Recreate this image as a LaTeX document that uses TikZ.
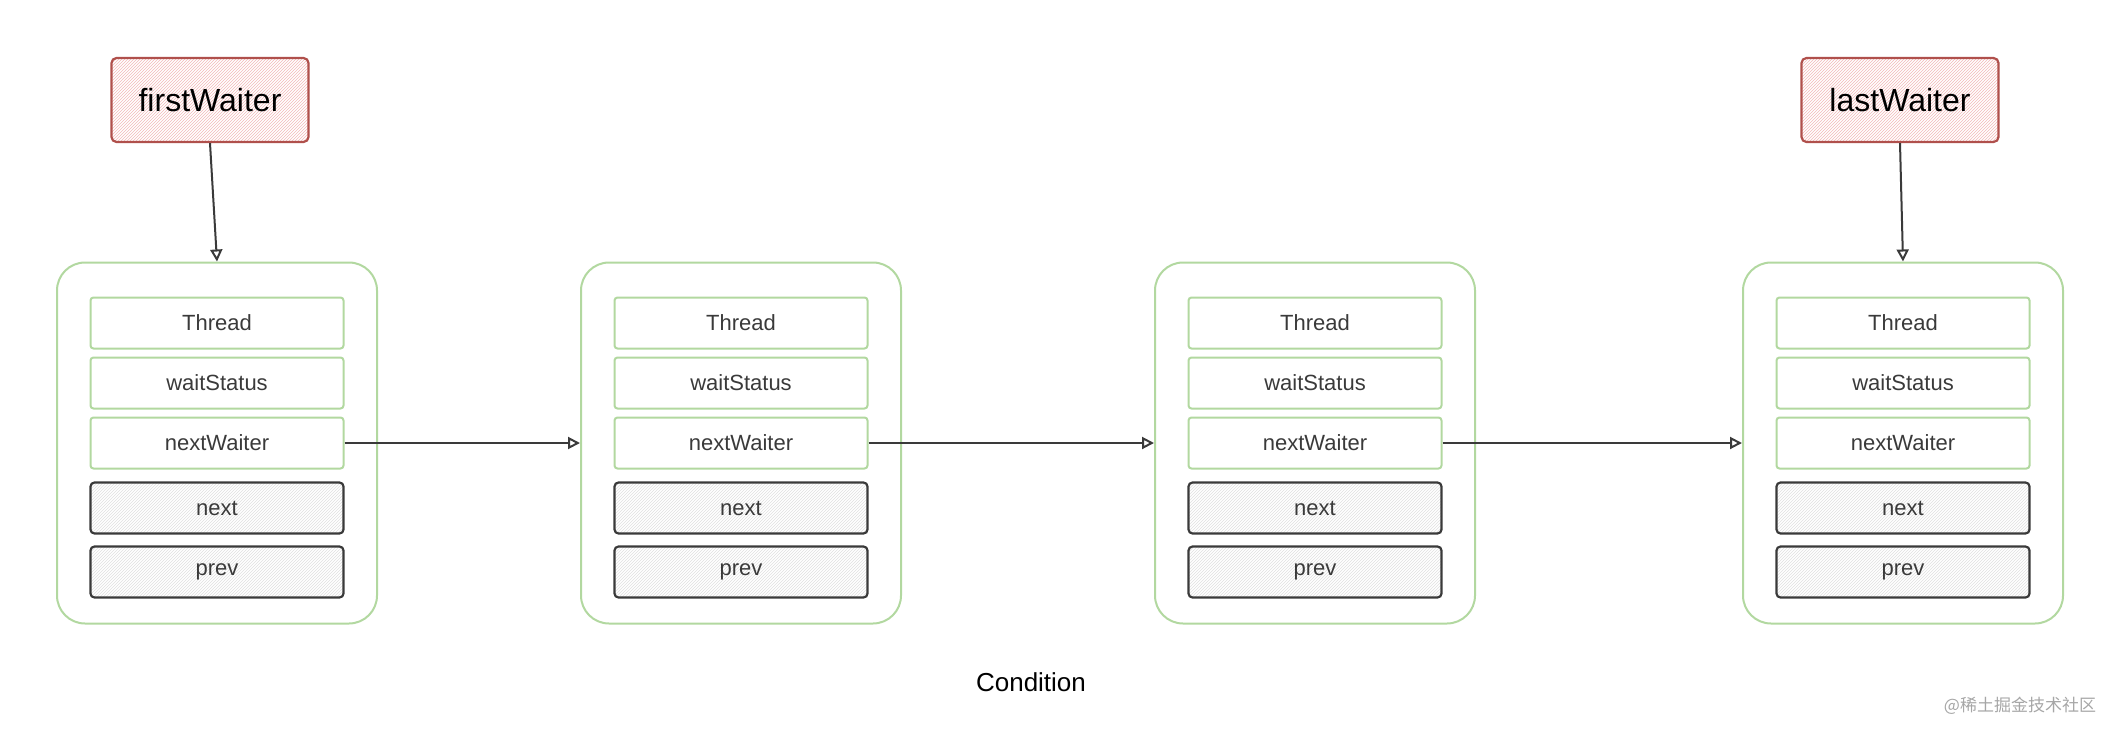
\documentclass[tikz,border=0pt]{standalone}
\usepackage{fontspec}
\setmainfont{Liberation Sans}
\newfontfamily\cjk{Noto Sans CJK SC}
\usetikzlibrary{patterns,arrows.meta}
\definecolor{grn}{HTML}{B2D8A0}
\definecolor{rd}{HTML}{B0504C}
\definecolor{pk}{HTML}{F2B8B8}
\definecolor{dk}{HTML}{3A3A3A}
\begin{document}
\begin{tikzpicture}[x=1pt,y=-1pt,
  outer/.style={draw=grn,line width=2pt,rounded corners=28pt},
  fld/.style={draw=grn,line width=2pt,rounded corners=3pt,minimum width=253pt,minimum height=51pt,font=\fontsize{22}{26}\selectfont,text=dk},
  ptr/.style={draw=dk,line width=2.2pt,rounded corners=4pt,minimum width=253pt,minimum height=51pt,font=\fontsize{22}{26}\selectfont,text=dk,pattern=north east lines,pattern color=gray!25},
  head/.style={draw=rd,line width=2.2pt,rounded corners=5pt,minimum width=197pt,minimum height=84pt,font=\fontsize{32}{38}\selectfont,pattern=north east lines,pattern color=pk},
  arr/.style={draw=dk,line width=2pt,-{Triangle[open,length=12pt,width=12pt]}}]
\useasboundingbox (0,0) rectangle (2118,736);
\foreach \i/\x in {1/57,2/581,3/1155,4/1743}{
  \pgfmathsetmacro\cx{\x+160}
  \node[outer,minimum width=320pt,minimum height=361pt] (box\i) at (\cx,443) {};
  \node[fld] (th\i) at (\cx,323) {Thread};
  \node[fld] (ws\i) at (\cx,383) {waitStatus};
  \node[fld] (nw\i) at (\cx,443) {nextWaiter};
  \node[ptr] (nx\i) at (\cx,508) {next};
  \node[ptr] (pv\i) at (\cx,572) {prev};
}
\node[head] (fw) at (210,100) {firstWaiter};
\node[head] (lw) at (1900,100) {lastWaiter};
\draw[arr] (fw.south) -- (box1.north);
\draw[arr] (lw.south) -- (box4.north);
\draw[arr] (nw1.east) -- (box2.west|-nw1.east);
\draw[arr] (nw2.east) -- (box3.west|-nw2.east);
\draw[arr] (nw3.east) -- (box4.west|-nw3.east);
\node[font=\fontsize{26}{30}\selectfont] (cond) at (1031,682) {Condition};
\node[font=\cjk\fontsize{17}{20}\selectfont,text=gray!70] (wm) at (2020,706) {@稀土掘金技术社区};
\end{tikzpicture}
\end{document}
